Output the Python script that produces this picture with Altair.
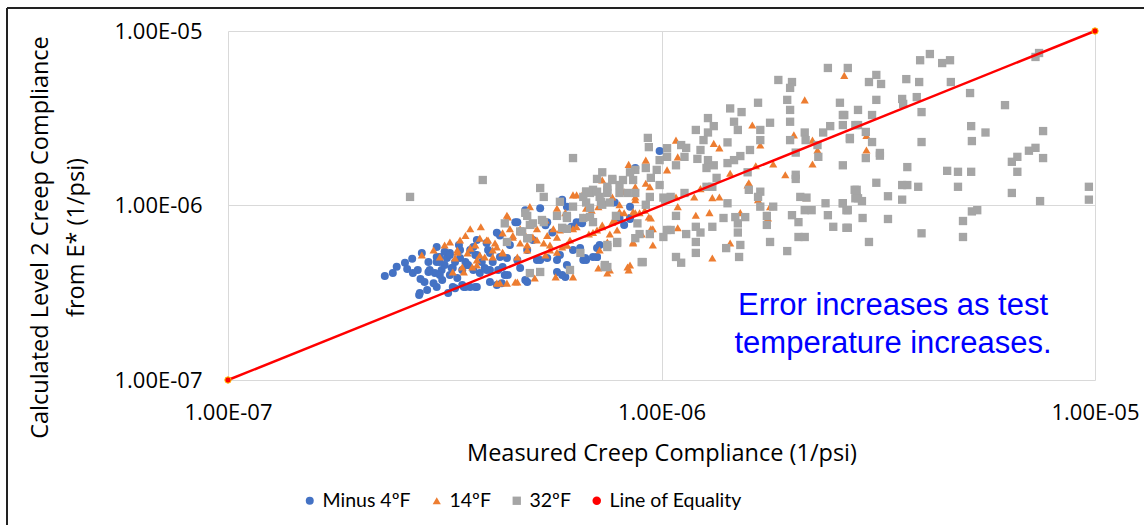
import altair as alt
import pandas as pd

# ---- data ----
# measured (x) values are given in units of 1e-7 1/psi, calculated (y) values in units of 1e-8 1/psi
X_UNIT = 1e-7
Y_UNIT = 1e-8
tick_values = [1e-7, 1e-6, 1e-5]
tick_labels = ["1.00E-07", "1.00E-06", "1.00E-05"]
series_names = ["Minus 4ºF", "14ºF", "32ºF", "Line of Equality"]
series_colors = ["#4472C4", "#ED7D31", "#A5A5A5", "#FF0000"]
series_shapes = ["circle", "triangle-up", "square", "circle"]
series_sizes = [64, 72, 58, 40]
equality = [1e-7, 1e-5]
annotation_lines = ["Error increases as test", "temperature increases."]
annotation_pos = [3.42e-6, 2.65e-7]

minus4 = [
    (2.30, 39.4), (2.40, 41.0), (2.45, 44.5), (2.56, 47.0), (2.66, 49.5), (2.59, 43.2), (2.67, 41.0),
    (2.76, 30.7), (2.80, 53.5), (3.03, 57.8), (2.78, 37.9), (2.77, 31.5), (2.88, 32.8), (3.03, 34.1),
    (3.11, 42.7), (3.25, 53.5), (3.16, 45.6), (3.38, 38.4), (3.34, 33.6), (3.53, 34.1), (3.62, 34.1),
    (3.75, 34.1), (3.81, 41.0), (3.91, 43.8), (4.02, 42.7), (4.20, 42.7), (4.30, 44.4), (4.24, 50.7),
    (4.40, 50.0), (4.17, 69.7), (4.60, 80.3), (5.25, 96.5), (4.65, 48.7), (4.02, 36.4), (4.28, 35.9),
    (4.85, 37.4), (5.25, 48.7), (5.45, 50.0), (5.74, 41.6), (6.0, 38.9), (6.6, 48.7), (7.1, 50.7),
    (7.2, 59.4), (6.5, 80.3), (3.68, 42.7), (3.03, 47.4), (3.20, 50.0), (3.47, 42.7), (3.25, 40.0),
    (2.92, 42.7), (3.0, 41.0), (3.34, 47.4), (3.75, 63.4), (3.53, 47.4), (3.03, 50.7), (9.9, 205),
    (8.7, 164), (8.46, 98.5), (8.46, 83.7), (8.2, 77.4), (7.8, 104), (6.25, 55.6), (6.7, 48.7),
    (7.1, 57), (7.1, 50.7), (5.9, 108), (6.2, 75.5), (6.56, 79), (6.05, 98.5), (3.08, 47.4),
    (3.16, 54.3), (3.28, 43.8), (3.43, 50.0), (3.58, 45.6), (3.72, 52), (3.85, 47.4), (3.98, 55.6),
    (4.08, 47.4), (3.62, 55.6), (3.41, 59.4), (3.12, 37.4), (2.98, 35.9), (2.90, 47.4), (2.74, 42.7),
    (4.72, 43.8), (4.9, 55.6), (4.47, 59.4), (5.05, 63.4), (5.6, 70), (5.4, 77), (4.85, 94),
    (5.83, 52), (4.35, 40), (3.22, 31.5), (3.47, 35),
    (3.08, 50.7), (3.25, 52), (3.43, 55.6), (3.68, 57.8), (3.75, 52), (3.95, 61), (4.02, 53.5),
    (4.24, 67.3), (4.65, 80.3), (5.45, 80.3), (5.9, 105), (6.37, 80.3), (6.49, 57), (6.67, 50),
    (6.95, 50.7), (8.0, 84.8), (8.46, 84.8), (5.16, 48.7), (5.74, 48.7), (4.9, 36.4), (4.42, 40),
    (4.17, 35), (3.72, 34.1), (3.5, 34.1), (3.3, 34.1), (2.84, 36.4), (2.9, 41.6), (3.08, 40),
    (3.95, 42.7), (3.3, 43.8), (3.56, 45.6), (5.9, 40), (6.05, 45.6),
]

f14 = [
    (3.25, 61.8), (3.53, 67.3), (3.83, 75.5), (2.98, 55.6), (2.80, 52.0), (3.08, 50.7), (3.38, 55.6),
    (3.57, 53.5), (3.30, 41.6), (3.47, 44.4), (3.66, 44.4), (3.75, 48.7), (3.91, 50.7), (4.08, 55.6),
    (3.98, 63.4), (4.30, 69.7), (4.40, 88), (4.54, 65.9), (4.72, 61), (4.9, 55.6), (4.97, 98.5),
    (5.16, 63.4), (5.35, 61), (5.53, 55.6), (5.74, 65.9), (5.9, 57.8), (6.15, 63.4), (6.37, 75.5),
    (6.6, 85.8), (7.1, 72.4), (7.2, 55.6), (7.3, 75.5), (8.7, 90.8), (9.15, 94), (9.45, 84.8),
    (9.55, 59.4), (8.46, 45.6), (8.4, 42.7), (7.5, 41), (7.15, 43.8), (6.25, 39), (5.7, 39),
    (5.1, 38.4), (4.6, 36.4), (4.4, 35.9), (4.17, 35.9), (3.81, 52), (4.3, 53.5), (4.65, 50.7),
    (6.25, 115), (6.6, 118), (7.7, 112), (8.7, 108), (8.4, 172), (9.2, 182), (10.3, 160),
    (10.8, 237), (10.9, 190), (13.2, 227), (13.6, 214), (16.2, 289), (16.9, 222), (20.2, 254),
    (21.4, 403), (26.4, 557), (22.3, 237), (22.9, 208), (22.3, 173), (18.1, 173), (19.3, 150),
    (16.5, 169), (15.8, 131), (16.7, 108), (17.8, 98.5), (21.6, 111), (13.6, 112), (13.1, 111),
    (12.9, 91), (11.9, 112), (10.8, 112), (10.9, 98.5), (10.3, 112), (9.2, 101), (8.9, 90.8),
    (9.35, 86), (9.55, 73.5), (9.0, 68.6), (8.6, 61.8), (8.2, 90.8), (7.8, 82.6), (7.9, 72.4),
    (7.6, 68.6), (7.5, 61.8), (8.7, 128), (9.4, 128), (8.2, 120), (7.3, 140), (7.5, 123),
    (7.15, 98.5), (10.9, 74.5), (13.1, 50), (14.4, 61), (17.6, 84.8), (15.9, 135), (6.05, 59.4),
    (29.7, 208), (29.7, 252), (5.4, 82.6), (5.83, 72.4), (6.8, 68.6), (6.9, 94), (8.0, 101),
    (6.0, 91), (5.0, 77.4), (4.8, 71), (4.13, 61), (4.47, 73.5), (5.4, 52), (3.72, 59.4),
    (3.43, 63.4), (3.34, 50), (3.16, 59.4), (3.62, 73.5), (12.3, 125), (14.4, 153), (15.2, 91),
    (12.0, 88),
    (4.42, 86), (3.81, 65), (3.95, 63.4), (4.17, 57.8), (4.4, 61.8), (4.54, 67.3), (4.72, 73.5),
    (4.9, 59.4), (5.05, 65.9), (5.16, 73.5), (5.45, 67.3), (5.63, 73.5), (5.53, 59.4), (5.74, 54),
    (6.05, 59.4), (6.25, 73.5), (5.74, 96.5), (6.37, 115), (6.7, 96.5), (6.95, 70), (7.3, 77.4),
    (7.7, 80.3), (8.0, 92), (8.6, 92), (8.6, 61), (9.45, 73.5), (8.7, 112), (9.2, 134),
    (4.08, 50.7), (3.75, 45.6), (3.5, 41.6), (4.24, 36), (4.65, 36.4), (8.35, 44.4), (7.6, 42.7),
    (3.38, 54), (3.62, 57), (4.3, 54),
]

f32 = [
    (2.63, 112), (3.87, 140), (4.35, 79), (4.4, 61.8), (4.85, 90.8), (5.05, 79), (4.77, 71),
    (4.9, 65), (5.35, 80.3), (5.74, 87.2), (5.9, 74.5), (6.05, 87.2), (6.25, 98.5), (6.6, 84.8),
    (6.84, 97), (6.95, 80.3), (7.3, 101), (7.6, 104), (7.85, 87.2), (6.84, 118), (7.5, 118),
    (8.35, 118), (8.7, 118), (9.2, 101), (10.2, 108), (10.1, 66), (9.4, 68.6), (8.7, 65),
    (7.9, 61), (7.5, 57.8), (6.5, 53.5), (9.05, 47.4), (7.5, 44.4), (6.15, 42.7), (5.25, 41.6),
    (4.97, 41), (5.35, 112), (9.3, 244), (9.35, 216), (10.3, 213), (11.1, 222), (11.4, 214),
    (12.0, 271), (12.8, 317), (13.2, 285), (12.8, 262), (12.5, 237), (12.3, 208), (14.2, 230),
    (14.7, 302), (15.0, 271), (14.4, 360), (15.3, 343), (16.7, 388), (17.8, 298), (16.9, 271),
    (16.9, 237), (16.0, 208), (15.2, 192), (14.7, 182), (14.2, 175), (13.2, 170), (12.8, 182),
    (12.7, 164), (12.1, 185), (11.3, 190), (10.8, 170), (10.3, 190), (9.9, 182), (9.75, 160),
    (9.2, 164), (8.7, 160), (8.46, 155), (8.15, 140), (7.7, 142), (7.3, 155), (7.1, 142),
    (7.5, 128), (6.95, 123), (6.7, 120), (6.6, 112), (7.2, 112), (8.0, 118), (9.4, 112),
    (10.1, 111), (10.5, 112), (11.3, 118), (12.7, 128), (13.1, 128), (13.4, 144), (15.8, 155),
    (15.9, 123), (16.9, 120), (19.8, 353), (19.5, 403), (19.8, 302), (21.4, 262), (19.8, 237),
    (21.5, 237), (22.9, 222), (23.0, 190), (20.4, 201), (23.6, 262), (24.5, 285), (26.2, 289),
    (26.2, 330), (25.8, 388), (27.2, 244), (26.2, 170), (28.4, 289), (20.4, 150), (20.4, 142),
    (20.9, 112), (21.6, 111), (20.0, 88), (20.7, 80.3), (21.4, 94), (22.2, 94), (23.9, 103),
    (24.2, 88), (24.9, 75.5), (26.2, 103), (26.7, 94), (28.2, 123), (28.2, 112), (26.7, 74.5),
    (20.7, 66), (21.4, 66), (19.5, 54.8), (17.8, 61.8), (17.5, 77.4), (17.5, 87.2), (18.1, 98.5),
    (16.9, 98.5), (15.6, 85.8), (14.8, 85.8), (13.9, 84.8), (15.0, 79), (15.0, 70), (15.2, 59.4),
    (14.1, 57), (15.1, 50.7), (13.1, 75.5), (12.3, 70), (12.0, 75.5), (11.4, 68.6), (12.0, 61.8),
    (12.0, 53.5), (11.1, 47), (10.8, 50.7), (10.5, 72.4), (10.8, 87.2), (14.2, 103), (8.8, 79),
    (8.9, 68.6), (7.9, 61.8), (9.0, 47.4), (7.4, 44.4), (6.84, 86), (6.7, 104), (6.25, 187),
    (16.7, 112), (26.9, 614), (31.3, 560), (30.1, 510), (32.1, 497), (36.7, 530), (39.3, 510),
    (39.5, 680), (41.6, 738), (44.4, 655), (46.3, 680), (46.5, 510), (51.5, 441), (31.3, 403),
    (35.9, 408), (36.1, 382), (38.8, 418), (28.4, 353), (30.6, 330), (26.4, 330), (28.0, 289),
    (39.8, 343), (62, 376), (72.9, 710), (74.3, 748), (51.8, 285), (55.9, 262), (75.9, 267),
    (27.2, 240), (29.6, 264), (30.6, 231), (39.8, 231), (52.0, 234), (31.9, 200), (31.9, 193),
    (29.6, 187), (36.9, 166), (45.6, 158), (48.3, 156), (51.8, 156), (66.2, 190), (64.3, 178),
    (70.4, 206), (72.9, 214), (75.9, 187), (66.2, 156), (27.9, 123), (31.3, 135), (35.9, 131),
    (36.9, 131), (39.1, 128), (48.3, 128), (28.0, 110), (28.4, 110), (29.0, 106), (33.3, 113),
    (35.9, 108), (64.3, 118), (74.7, 106), (96.8, 128), (96.8, 108), (26.2, 103), (26.9, 94),
    (29.1, 84.8), (33.3, 83.7), (52.0, 92.5), (53.5, 94), (26.9, 74.5), (49.6, 81.5), (39.8, 69.3),
    (49.6, 66), (30.1, 61.8), (18.6, 524), (20.0, 510), (19.8, 472), (24.2, 614),
    (5.25, 126), (4.9, 87.2), (4.97, 77.4), (5.3, 82.6), (4.72, 71), (4.92, 65), (5.83, 105),
    (6.05, 84.8), (6.05, 73.5), (6.7, 120), (7.1, 120), (7.25, 105), (7.5, 123), (7.7, 140),
    (8.0, 131), (8.6, 140), (9.45, 144), (7.5, 59.4), (7.4, 45.6), (10.3, 72.4), (9.9, 131),
]

# ---- tables ----
rows = []
for name, pts in zip(series_names[:3], [minus4, f14, f32]):
    for mx, cy in pts:
        rows.append({"series": name, "measured": mx * X_UNIT, "calculated": cy * Y_UNIT})
scatter_df = pd.DataFrame(rows)
line_df = pd.DataFrame({"series": [series_names[3]] * 2, "measured": equality, "calculated": equality})
note_df = pd.DataFrame({"measured": [annotation_pos[0]], "calculated": [annotation_pos[1]]})

label_expr = "".join(
    f"datum.value < {v * 3} ? '{lab}' : " for v, lab in zip(tick_values[:-1], tick_labels[:-1])
) + f"'{tick_labels[-1]}'"

FONT = "Open Sans"
GRID = "#D9D9D9"

x_scale = alt.Scale(type="log", domain=[tick_values[0], tick_values[-1]], nice=False)
y_scale = alt.Scale(type="log", domain=[tick_values[0], tick_values[-1]], nice=False)

x_axis = alt.Axis(
    values=tick_values, labelExpr=label_expr, grid=True, gridColor=GRID, gridWidth=1,
    domain=False, ticks=False, tickSize=0, labelFont=FONT, labelFontSize=22, labelColor="#000000",
    labelPadding=22, labelFlush=False, labelOverlap=False,
    title="Measured Creep Compliance (1/psi)", titleFont=FONT, titleFontSize=23.5,
    titleFontWeight="normal", titleColor="#000000", titleBaseline="alphabetic", titleY=80,
)
y_axis = alt.Axis(
    values=tick_values, labelExpr=label_expr, grid=True, gridColor=GRID, gridWidth=1,
    domain=False, ticks=False, tickSize=0, labelFont=FONT, labelFontSize=22, labelColor="#000000",
    labelPadding=26, labelFlush=False, labelOverlap=False, labelBaseline="middle",
    title=["Calculated Level 2 Creep Compliance", "from E* (1/psi)"], titleFont=FONT,
    titleFontSize=23.5, titleFontWeight="normal", titleColor="#000000", titleAngle=270,
    titleAlign="center", titleBaseline="middle", titleLineHeight=36, titleX=-188, titleY=206,
)

legend = alt.Legend(
    orient="none", legendX=72, legendY=460, direction="horizontal", title=None,
    labelFont="Lato", labelFontSize=19.5, labelColor="#000000", symbolSize=40, labelOffset=3,
    columnPadding=16, symbolStrokeWidth=0, gridAlign="none",
)
color_enc = alt.Color("series:N", scale=alt.Scale(domain=series_names, range=series_colors), legend=legend)
shape_enc = alt.Shape("series:N", scale=alt.Scale(domain=series_names, range=series_shapes), legend=legend)
size_enc = alt.Size("series:N", scale=alt.Scale(domain=series_names, range=series_sizes), legend=None)

base_x = alt.X("measured:Q", scale=x_scale, axis=x_axis)
base_y = alt.Y("calculated:Q", scale=y_scale, axis=y_axis)

scatter = alt.Chart(scatter_df).mark_point(filled=True, opacity=1).encode(
    x=base_x, y=base_y, color=color_enc, shape=shape_enc, size=size_enc
)
eq_line = alt.Chart(line_df).mark_line(color="#FF0000", strokeWidth=2.5).encode(
    x=alt.X("measured:Q", scale=x_scale), y=alt.Y("calculated:Q", scale=y_scale)
)
eq_pts = alt.Chart(line_df).mark_point(filled=True, size=40, opacity=1, stroke="#FFC000", strokeWidth=1).encode(
    x=alt.X("measured:Q", scale=x_scale), y=alt.Y("calculated:Q", scale=y_scale),
    color=color_enc, shape=shape_enc,
)
note = alt.Chart(note_df).mark_text(
    text=annotation_lines, font="Liberation Sans", fontSize=31, color="#0000FF",
    align="center", baseline="middle", lineHeight=38,
).encode(x=alt.X("measured:Q", scale=x_scale), y=alt.Y("calculated:Q", scale=y_scale))

frame_df = pd.DataFrame({"k": [0]})
frame_top = alt.Chart(frame_df).mark_rule(color="#222222", strokeWidth=2).encode(
    x=alt.value(-221), x2=alt.value(916), y=alt.value(-23)
)
frame_left = alt.Chart(frame_df).mark_rule(color="#222222", strokeWidth=2).encode(
    x=alt.value(-221), y=alt.value(-23), y2=alt.value(494)
)

chart = alt.layer(scatter, eq_line, eq_pts, note, frame_top, frame_left).properties(
    width=867, height=349,
    autosize=alt.AutoSizeParams(type="none"),
    padding={"left": 228, "top": 31, "right": 49, "bottom": 145},
    background="#FFFFFF",
).configure_view(stroke=None)

chart.save("out.html", embed_options={"renderer": "svg", "actions": False})
